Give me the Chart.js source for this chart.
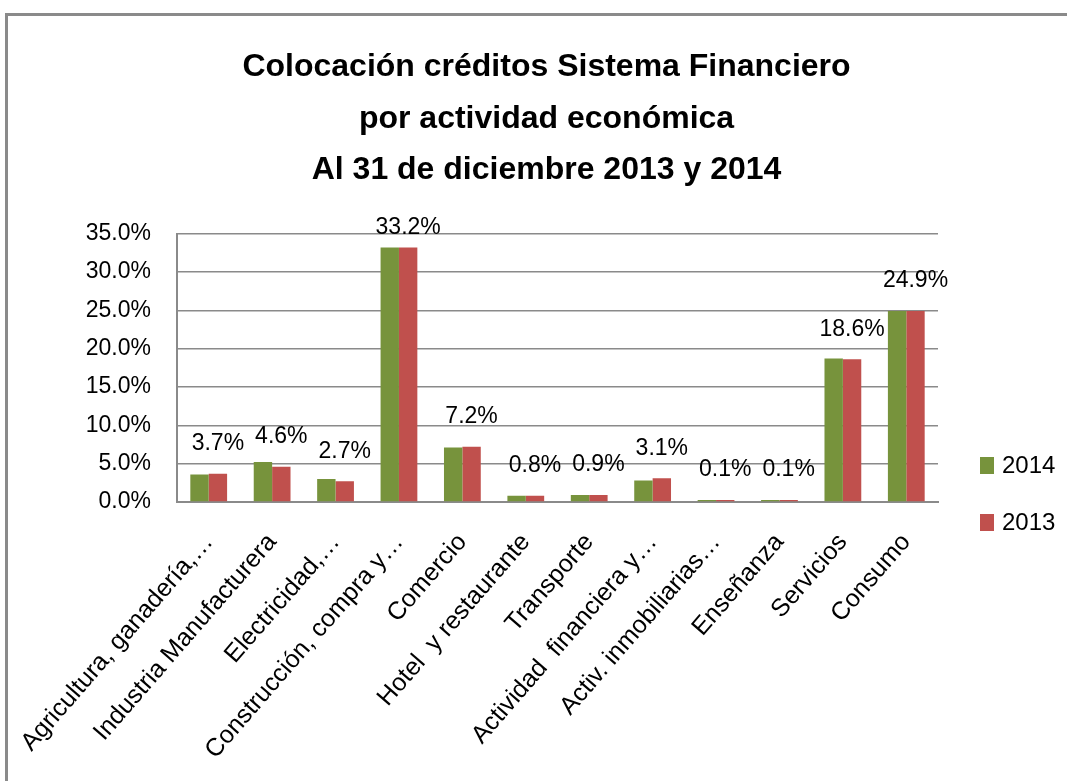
<!DOCTYPE html>
<html>
<head>
<meta charset="utf-8">
<script src="https://cdn.jsdelivr.net/npm/chart.js@4.4.1/dist/chart.umd.min.js"></script>
<style>
  html, body { margin: 0; padding: 0; background: #fff; overflow: hidden; }
  #frame {
    position: absolute; left: 5px; top: 13px; width: 1200px; height: 900px;
    border-left: 3px solid #8a8a8a; border-top: 3px solid #8a8a8a;
  }
  #wrap { position: absolute; left: 0; top: 0; width: 1067px; height: 781px; }
</style>
</head>
<body>
<div id="frame"></div>
<div id="wrap"><canvas id="chart1" width="1067" height="781"></canvas></div>
<script>
const titleLines = [
  "Colocación créditos Sistema Financiero",
  "por actividad económica",
  "Al 31 de diciembre 2013 y 2014",
];
const categories = [
  "Agricultura, ganadería,…",
  "Industria Manufacturera",
  "Electricidad,…",
  "Construcción, compra y…",
  "Comercio",
  "Hotel  y restaurante",
  "Transporte",
  "Actividad  financiera y…",
  "Activ. inmobiliarias…",
  "Enseñanza",
  "Servicios",
  "Consumo",
];
const values2014 = [3.6, 5.2, 3.0, 33.2, 7.1, 0.8, 0.9, 2.8, 0.1, 0.1, 18.7, 24.9];
const values2013 = [3.7, 4.6, 2.7, 33.2, 7.2, 0.8, 0.9, 3.1, 0.1, 0.1, 18.6, 24.9];
const yTicks = [0, 5, 10, 15, 20, 25, 30, 35];

const GREEN = "#77933C";
const RED = "#C0504D";
const FONT = "'Liberation Sans', Arial, sans-serif";

// value labels over the 2013 bars
const valueLabels = {
  id: "valueLabels",
  afterDatasetsDraw(chart) {
    const ctx = chart.ctx;
    const meta = chart.getDatasetMeta(1);
    ctx.save();
    ctx.font = "23px " + FONT;
    ctx.fillStyle = "#000";
    ctx.textAlign = "center";
    ctx.textBaseline = "middle";
    meta.data.forEach((bar, i) => {
      const y = Math.max(bar.y - 30, chart.chartArea.top - 6);
      ctx.fillText(values2013[i].toFixed(1) + "%", bar.x, y);
    });
    ctx.restore();
  },
};

// legend drawn at the lower right of the plot
const sideLegend = {
  id: "sideLegend",
  afterDraw(chart) {
    const ctx = chart.ctx;
    const area = chart.chartArea;
    ctx.save();
    ctx.font = "24px " + FONT;
    ctx.textBaseline = "middle";
    ctx.textAlign = "left";
    chart.data.datasets.forEach((ds, i) => {
      const cy = area.bottom - 37 + i * 57;
      ctx.fillStyle = ds.backgroundColor;
      ctx.fillRect(area.right + 42, cy - 8, 14, 17);
      ctx.fillStyle = "#000";
      ctx.fillText(ds.label, area.right + 64, cy + 1);
    });
    ctx.restore();
  },
};

const ctx1 = document.getElementById("chart1").getContext("2d");
new Chart(ctx1, {
  type: "bar",
  data: {
    labels: categories,
    datasets: [
      { label: "2014", data: values2014, backgroundColor: GREEN, minBarLength: 2 },
      { label: "2013", data: values2013, backgroundColor: RED, minBarLength: 2 },
    ],
  },
  options: {
    responsive: false,
    animation: false,
    layout: { padding: { left: 26, right: 0, top: 0, bottom: 0 } },
    datasets: { bar: { categoryPercentage: 0.58, barPercentage: 1.0 } },
    plugins: {
      legend: { display: false },
      tooltip: { enabled: false },
      title: {
        display: true,
        text: titleLines,
        color: "#000",
        font: { family: FONT, size: 32, weight: "bold", lineHeight: 1.6 },
        padding: { top: 42, bottom: 38 },
      },
    },
    scales: {
      x: {
        grid: { display: false, drawTicks: false },
        border: { display: true, color: "#8a8a8a", width: 2 },
        ticks: {
          color: "#000",
          font: { family: FONT, size: 25 },
          minRotation: 49,
          maxRotation: 49,
          autoSkip: false,
          padding: 26,
        },
        afterFit(scale) {
          scale.height = 279;
          scale.paddingLeft = 0;
          scale.paddingRight = 0;
        },
      },
      y: {
        min: 0,
        max: 35,
        afterBuildTicks(scale) { scale.ticks = yTicks.map(v => ({ value: v })); },
        grid: { color: "#8a8a8a", lineWidth: 1.5, drawTicks: false },
        border: { display: true, color: "#8a8a8a", width: 2 },
        ticks: {
          color: "#000",
          font: { family: FONT, size: 23 },
          padding: 26,
          callback: v => v.toFixed(1) + "%",
        },
        afterFit(scale) { scale.width = 151; },
      },
      right: {
        position: "right",
        display: true,
        grid: { display: false, drawTicks: false },
        border: { display: false },
        ticks: { display: false },
        afterFit(scale) { scale.width = 129; },
      },
    },
  },
  plugins: [valueLabels, sideLegend],
});
</script>
</body>
</html>
